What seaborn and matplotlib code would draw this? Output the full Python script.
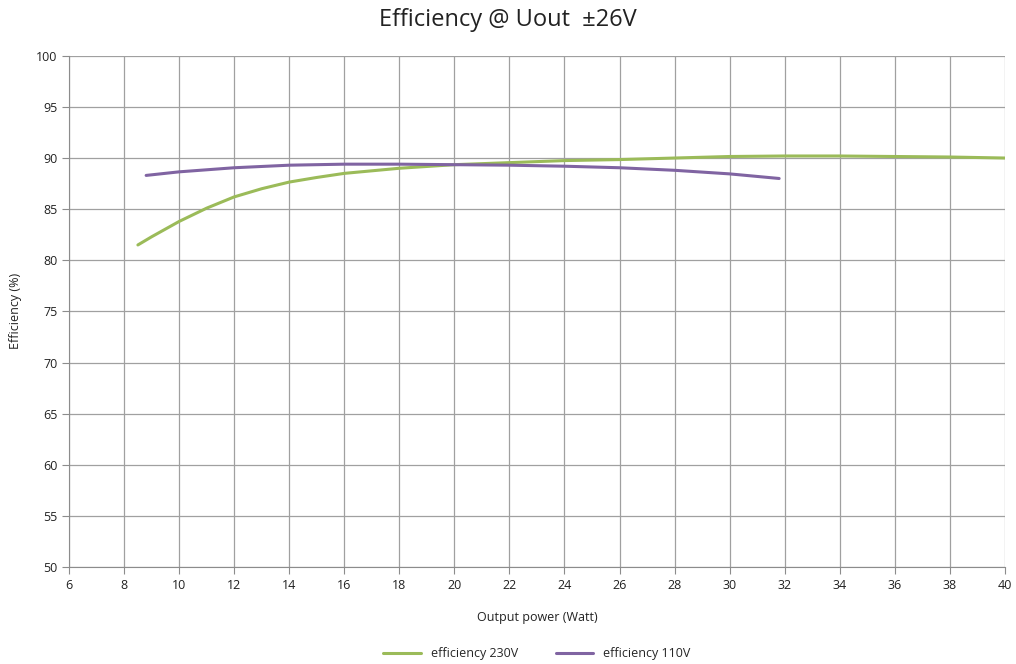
import pandas as pd
import matplotlib
matplotlib.use("Agg")
import matplotlib.pyplot as plt
import seaborn as sns

# values
power_230 = [8.5, 9, 10, 11, 12, 13, 14, 15, 16, 18, 20, 22, 24, 26, 28, 30, 32, 34, 36, 38, 40]
eff_230 = [81.5, 82.3, 83.8, 85.1, 86.2, 87.0, 87.65, 88.1, 88.5, 89.0, 89.35, 89.55, 89.75, 89.85, 90.0, 90.15, 90.2, 90.2, 90.15, 90.1, 90.0]

power_110 = [8.8, 10, 12, 14, 16, 18, 20, 22, 24, 26, 28, 30, 31.8]
eff_110 = [88.3, 88.65, 89.05, 89.3, 89.4, 89.4, 89.35, 89.3, 89.2, 89.05, 88.8, 88.45, 88.0]

x_ticks = list(range(6, 41, 2))
y_ticks = list(range(50, 101, 5))

df = pd.concat([
    pd.DataFrame({"power": power_230, "eff": eff_230, "series": "efficiency 230V"}),
    pd.DataFrame({"power": power_110, "eff": eff_110, "series": "efficiency 110V"}),
], ignore_index=True)

sns.set_style("white")
plt.rcParams["font.family"] = ["Open Sans", "DejaVu Sans"]

fig = plt.figure(figsize=(10.16, 6.64), dpi=100)
ax = fig.add_axes([0.068, 0.146, 0.921, 0.770])

sns.lineplot(data=df, x="power", y="eff", hue="series", sort=False,
             palette={"efficiency 230V": "#9BBB59", "efficiency 110V": "#8064A2"},
             linewidth=2.2, ax=ax)

ax.set_xlim(6, 40)
ax.set_ylim(50, 100)
ax.set_xticks(x_ticks)
ax.set_yticks(y_ticks)
ax.grid(True, color="#a0a0a0", linewidth=0.9)
ax.set_axisbelow(True)
for s in ["top", "right"]:
    ax.spines[s].set_visible(False)
for s in ["left", "bottom"]:
    ax.spines[s].set_color("#8c8c8c")
ax.tick_params(axis="both", direction="out", length=5, color="#8c8c8c",
               labelsize=9, labelcolor="#222222", left=True, bottom=True)

ax.set_xlabel("Output power (Watt)", fontsize=9, color="#222222", labelpad=14)
ax.set_ylabel("Efficiency (%)", fontsize=9, color="#222222", labelpad=10)
fig.suptitle("Efficiency @ Uout  \u00b126V", fontsize=17, y=0.988, color="#222222")

ax.legend(loc="upper center", bbox_to_anchor=(0.5, -0.135), ncol=2, frameon=False,
          fontsize=9, handlelength=3, columnspacing=3, title=None)

fig.savefig("out.png", dpi=100)
